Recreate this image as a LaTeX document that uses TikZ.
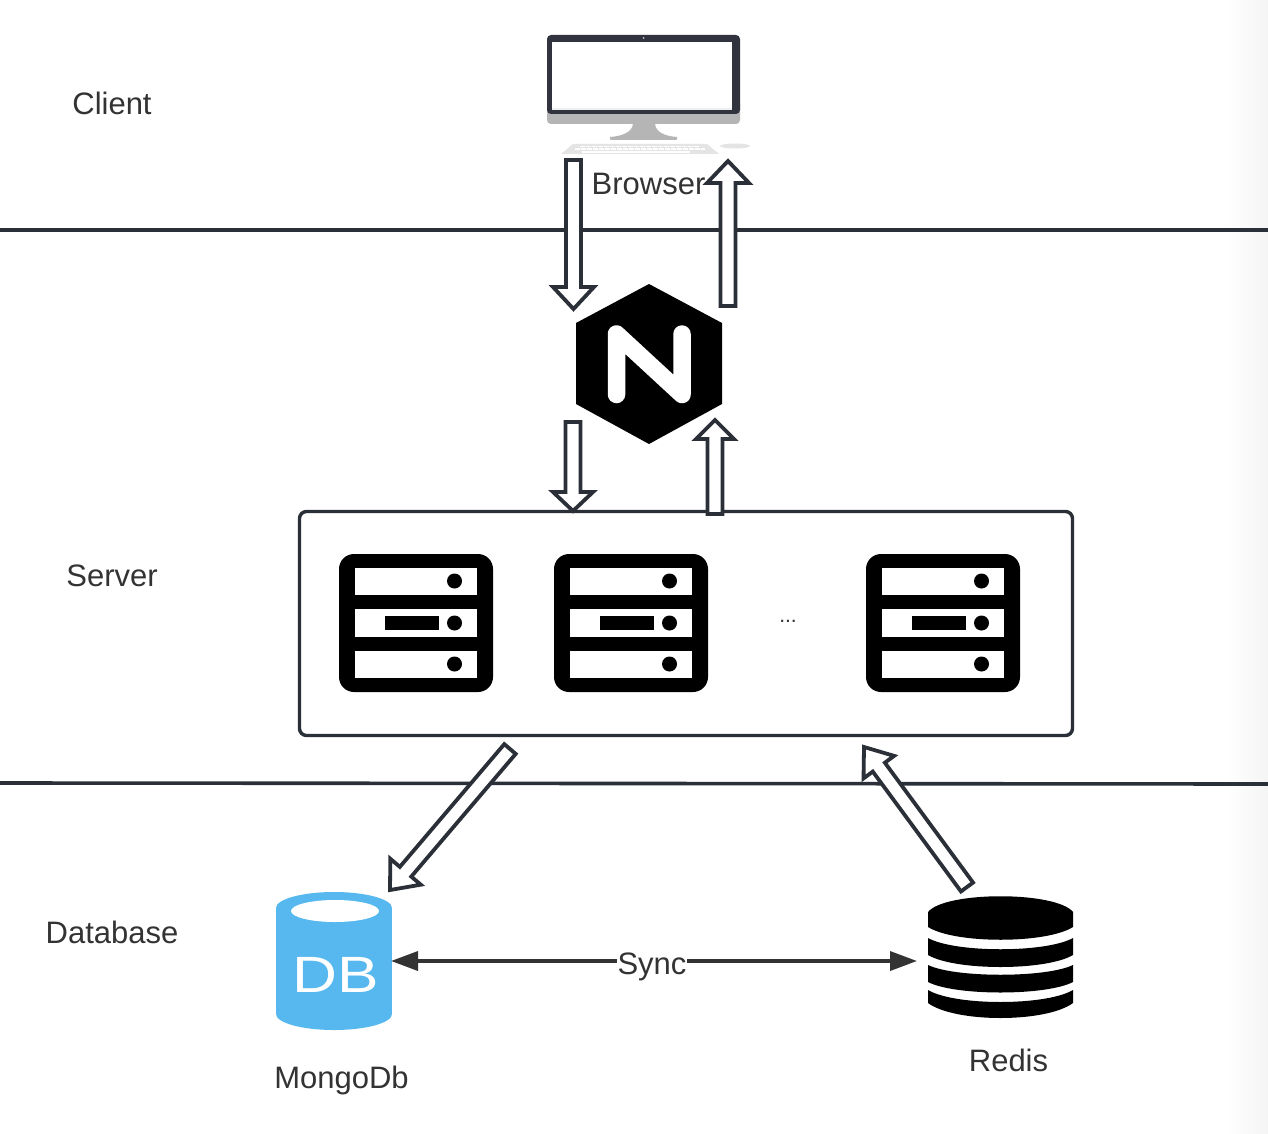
\documentclass[tikz,border=0pt]{standalone}
\usepackage{fontspec}
\setmainfont{Liberation Sans}
\usetikzlibrary{calc,arrows.meta}
\definecolor{inkline}{HTML}{2B2F38}
\definecolor{labeltext}{HTML}{333333}
\definecolor{dbblue}{HTML}{56B8EE}
\definecolor{bezel}{HTML}{31333F}
\definecolor{chin}{HTML}{B5B5B5}
\definecolor{keyb}{HTML}{E4E4E4}
\tikzset{
  label text/.style={text=labeltext,font=\fontsize{31}{35}\selectfont,anchor=base,inner sep=0pt},
  layer line/.style={draw=inkline,line width=3.6pt},
  block arrow/.style={draw=inkline,fill=white,line width=3.8pt,line join=miter,miter limit=3},
  sync arrow/.style={draw=labeltext,line width=3.6pt,{Triangle[length=27pt,width=19pt]}-{Triangle[length=27pt,width=19pt]},shorten <=0pt,shorten >=0pt},
}
% block arrow from named coordinate #1 to #2: shaft width #3, head width #4, head length #5
\newcommand{\blockarrow}[5]{%
  \path let \p1=($(#2)-(#1)$), \n1={atan2(\y1,\x1)}, \n2={veclen(\x1,\y1)} in
    [block arrow,shift={(#1)},rotate=\n1]
    (0,{-#3/2}) -- ({\n2-#5},{-#3/2}) -- ({\n2-#5},{-#4/2}) -- (\n2,0)
    -- ({\n2-#5},{#4/2}) -- ({\n2-#5},{#3/2}) -- (0,{#3/2}) -- cycle;
}
% server icon, offset #1 from the first one
\newcommand{\servericon}[1]{%
  \begin{scope}[xshift=#1pt]
    \fill[black,rounded corners=15pt] (339,554) rectangle (493,692);
    \fill[white] (355,568) rectangle (477,595);
    \fill[white] (355,609) rectangle (477,637);
    \fill[white] (355,651) rectangle (477,678);
    \fill[black] (385,616) rectangle (439,630);
    \fill[black] (454.5,581) circle[radius=7.5];
    \fill[black] (454.5,623) circle[radius=7.5];
    \fill[black] (454.5,664) circle[radius=7.5];
  \end{scope}
}
\begin{document}
\begin{tikzpicture}[x=1pt,y=-1pt]
\useasboundingbox (0,0) rectangle (1268,1134);
\fill[white] (0,0) rectangle (1268,1134);
\shade[left color=white,right color=black!4] (1225,0) rectangle (1268,1134);

% layer separators
\coordinate (sepAl) at (0,230);   \coordinate (sepAr) at (1268,230);
\coordinate (sepBl) at (0,783);   \coordinate (sepBr) at (1268,784);
\draw[layer line] (sepAl) -- (sepAr);
\draw[layer line] (sepBl) -- (sepBr);

% server box
\draw[draw=inkline,line width=3.4pt,rounded corners=7pt] (299.5,511.5) rectangle (1072.5,735.5);
\servericon{0}
\servericon{215}
\servericon{527}
\node[text=labeltext,font=\fontsize{21}{24}\selectfont,anchor=base,inner sep=0pt] (dots) at (788,622) {...};

% monitor
\fill[chin,rounded corners=4pt] (547,100) rectangle (740,124);
\fill[chin] (633,124) -- (655,124) .. controls (656,132) and (664,136) .. (677,137)
  -- (677,139) .. controls (677,140) and (676,140) .. (675,140) -- (612,140)
  .. controls (611,140) and (610,140) .. (610,139) -- (610,137)
  .. controls (623,136) and (632,132) .. (633,124) -- cycle;
\fill[bezel,rounded corners=4pt] (547,35) -- (740,35) -- (740,114) -- (547,114) -- cycle;
\fill[white!92!bezel] (552,42) rectangle (732,110);
\fill[white] (552,42) rectangle (732,108);
\fill[white!70!bezel] (643.5,38) circle[radius=1];
% keyboard and mouse
\fill[keyb] (573,144) -- (707,144) -- (719,154) -- (561,154) -- cycle;
\draw[white,line width=1.4pt,dash pattern=on 5pt off 1pt] (580,146.5) -- (700,146.5);
\draw[white,line width=1.4pt,dash pattern=on 5pt off 1pt] (575,149) -- (705,149);
\draw[white,line width=1.4pt] (582,152) -- (690,152);
\fill[keyb] (735,146) ellipse[x radius=15,y radius=2.5];

% nginx
\fill[black] (649,284) -- (722,323) -- (722,404) -- (649,444) -- (576,404) -- (576,323) -- cycle;
\draw[white,line width=17.5pt,line cap=round,line join=round] (616.5,394.5) -- (616.5,334) -- (682,394.5) -- (682,334);

% mongodb
\fill[dbblue] (276,908) rectangle (392,1014);
\fill[dbblue] (334,908) ellipse[x radius=58,y radius=16];
\fill[dbblue] (334,1014) ellipse[x radius=58,y radius=16];
\fill[white] (335,911) ellipse[x radius=44,y radius=11];
\node[text=white,font=\fontsize{51}{55}\selectfont\addfontfeature{FakeStretch=1.22},anchor=base,inner sep=0pt] (dbtext) at (335.5,992) {DB};

% redis
\fill[black] (928,927) -- (928,912) .. controls (945,891) and (1056,891) .. (1073,912) -- (1073,927)
  .. controls (1046,944) and (955,944) .. (928,927) -- cycle;
\fill[black] (928,938) .. controls (955,953) and (1046,953) .. (1073,938) -- (1073,955)
  .. controls (1046,971) and (955,971) .. (928,955) -- cycle;
\fill[black] (928,965) .. controls (955,978) and (1046,978) .. (1073,965) -- (1073,982)
  .. controls (1046,996) and (955,996) .. (928,982) -- cycle;
\fill[black] (928,990) .. controls (955,1006) and (1046,1006) .. (1073,990) -- (1073,1003)
  .. controls (1046,1023) and (955,1023) .. (928,1003) -- cycle;

% labels
\node[label text] (client) at (112,115) {Client};
\node[label text] (browser) at (648.5,194) {Browser};
\node[label text] (server) at (112,586) {Server};
\node[label text] (database) at (112,943) {Database};
\node[label text] (mongo) at (341.5,1088) {MongoDb};
\node[label text] (redis) at (1008.5,1071) {Redis};

% sync
\coordinate (mongoR) at (391,961);
\coordinate (redisL) at (917,961);
\draw[sync arrow] (mongoR) -- (redisL);
\node[label text,fill=white,inner xsep=1pt,inner ysep=2pt] (sync) at (652,974) {Sync};

% block arrows
\coordinate (a1s) at (573.5,160); \coordinate (a1e) at (573.5,309);
\coordinate (a2s) at (728,306);   \coordinate (a2e) at (728,161);
\coordinate (a3s) at (573,422);   \coordinate (a3e) at (573,511);
\coordinate (a4s) at (715,514);   \coordinate (a4e) at (715,420);
\coordinate (a5s) at (510,749);   \coordinate (a5e) at (390,890);
\coordinate (a6s) at (967,887);   \coordinate (a6e) at (864,747);
\blockarrow{a1s}{a1e}{15}{41}{22}
\blockarrow{a2s}{a2e}{15}{42}{22}
\blockarrow{a3s}{a3e}{15}{40}{19}
\blockarrow{a4s}{a4e}{15}{38}{19}
\blockarrow{a5s}{a5e}{15}{40}{24}
\blockarrow{a6s}{a6e}{15}{38}{25}
\end{tikzpicture}
\end{document}
